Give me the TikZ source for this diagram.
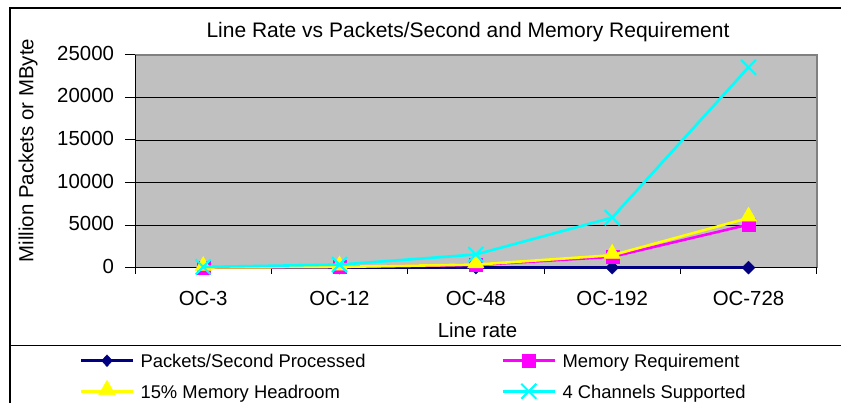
\documentclass[tikz,border=0pt]{standalone}
\usepackage{fontspec}
\setmainfont{Liberation Sans}
\usetikzlibrary{shapes.geometric,shapes.misc,calc}

\definecolor{plotgray}{HTML}{C0C0C0}
\definecolor{framegray}{HTML}{808080}
\definecolor{sNavy}{HTML}{000080}
\definecolor{sMagenta}{HTML}{FF00FF}
\definecolor{sYellow}{HTML}{FFFF00}
\definecolor{sCyan}{HTML}{00FFFF}

\tikzset{
  titlefont/.style={font=\fontsize{21}{24}\selectfont},
  axisfont/.style={font=\fontsize{20.4}{23}\selectfont},
  legendfont/.style={font=\fontsize{18.4}{21}\selectfont},
  serline/.style={line width=2.6pt, line join=round},
  mkdiamond/.style={diamond, fill=sNavy, draw=sNavy, inner sep=0pt, minimum width=13pt, minimum height=13pt},
  mksquare/.style={rectangle, fill=sMagenta, draw=sMagenta, inner sep=0pt, minimum size=13pt},
  mktriangle/.style={regular polygon, regular polygon sides=3, fill=sYellow, draw=sYellow, inner sep=0pt, minimum size=19pt, yshift=1.5pt},
  mkcross/.style={cross out, draw=sCyan, line width=2pt, inner sep=0pt, minimum size=13pt},
  gridline/.style={line width=0.9pt, black},
  tickline/.style={line width=1pt, black},
}

\begin{document}
\begin{tikzpicture}[x=1pt, y=-1pt]
\useasboundingbox (0,0) rectangle (841,403);
\fill[white] (0,0) rectangle (841,403);

% chart frame and legend separator
\draw[line width=1.2pt] (841,8) -- (10,8) -- (10,403);
\draw[line width=1.2pt] (10,345.7) -- (841,345.7);

% title
\node[titlefont, anchor=base] (title) at (468,37.5) {Line Rate vs Packets/Second and Memory Requirement};

% plot area
\fill[plotgray] (135,55) rectangle (816.7,267.7);
\foreach \yy in {97.3,140,182.6,225.2} \draw[gridline] (135,\yy) -- (816.7,\yy);
\draw[framegray, line width=2pt] (135,55) -- (816.7,55) -- (816.7,267.7);

% value axis
\draw[tickline] (135,55) -- (135,267.7);
\foreach \yy/\lab in {55/25000,97.3/20000,140/15000,182.6/10000,225.2/5000,267.7/0} {
  \draw[tickline] (125,\yy) -- (135,\yy);
  \node[axisfont, anchor=base east] at (117.5,\yy+5.5) {\lab};
}
% category axis
\draw[tickline] (135,267.7) -- (816.7,267.7);
\foreach \xx in {135,271.3,407.7,544,680.3,816.7} \draw[tickline] (\xx,267.7) -- (\xx,274.5);
\foreach \xx/\lab in {203.2/OC-3,339.5/OC-12,475.8/OC-48,612.2/OC-192,748.5/OC-728}
  \node[axisfont, anchor=base] at (\xx,305.5) {\lab};

% axis titles
\node[axisfont, anchor=base] (xtitle) at (477.5,337.7) {Line rate};
\node[axisfont, anchor=base, rotate=90] (ytitle) at (33.3,150.5) {Million Packets or MByte};

% data points (x: category centre, y: value scaled to 5000 per 42.54px)
\foreach \n/\xx in {1/203.2,2/339.5,3/475.8,4/612.2,5/748.5} {
  \coordinate (P\n) at (\xx,267.6);
}
\coordinate (M1) at (203.2,267.5);
\coordinate (M2) at (339.5,267.0);
\coordinate (M3) at (475.8,265.0);
\coordinate (M4) at (612.2,256.8);
\coordinate (M5) at (748.5,224.6);
\coordinate (H1) at (203.2,267.5);
\coordinate (H2) at (339.5,266.9);
\coordinate (H3) at (475.8,264.6);
\coordinate (H4) at (612.2,255.2);
\coordinate (H5) at (748.5,218.0);
\coordinate (C1) at (203.2,266.9);
\coordinate (C2) at (339.5,264.6);
\coordinate (C3) at (475.8,254.5);
\coordinate (C4) at (612.2,217.6);
\coordinate (C5) at (748.5,67.3);

% series: packets/second processed
\draw[serline, sNavy] (P1) -- (P2) -- (P3) -- (P4) -- (P5);
\foreach \n in {1,...,5} \node[mkdiamond] (pm\n) at (P\n) {};
% series: memory requirement
\draw[serline, sMagenta] (M1) -- (M2) -- (M3) -- (M4) -- (M5);
\foreach \n in {1,...,5} \node[mksquare] (mm\n) at (M\n) {};
% series: 15% memory headroom
\draw[serline, sYellow] (H1) -- (H2) -- (H3) -- (H4) -- (H5);
\foreach \n in {1,...,5} \node[mktriangle] (hm\n) at (H\n) {};
% series: 4 channels supported
\draw[serline, sCyan] (C1) -- (C2) -- (C3) -- (C4) -- (C5);
\foreach \n in {1,...,5} \node[mkcross] (cm\n) at (C\n) {};

% legend
\coordinate (la1) at (81,360.7);  \coordinate (lb1) at (133,360.7);
\coordinate (la2) at (502.7,360.7); \coordinate (lb2) at (555,360.7);
\coordinate (la3) at (81,391.3);  \coordinate (lb3) at (133,391.3);
\coordinate (la4) at (502.7,391.3); \coordinate (lb4) at (555,391.3);

\draw[serline, sNavy] (la1) -- (lb1);
\node[mkdiamond, minimum width=11pt, minimum height=12pt] (lm1) at ($(la1)!0.5!(lb1)$) {};
\node[legendfont, anchor=base west] (lt1) at (137,367.7) {Packets/Second Processed};

\draw[serline, sMagenta] (la2) -- (lb2);
\node[mksquare] (lm2) at ($(la2)!0.5!(lb2)$) {};
\node[legendfont, anchor=base west] (lt2) at (559,367.7) {Memory Requirement};

\draw[serline, sYellow] (la3) -- (lb3);
\node[mktriangle] (lm3) at ($(la3)!0.5!(lb3)$) {};
\node[legendfont, anchor=base west] (lt3) at (137,398.3) {15\% Memory Headroom};

\draw[serline, sCyan] (la4) -- (lb4);
\node[mkcross] (lm4) at ($(la4)!0.5!(lb4)$) {};
\node[legendfont, anchor=base west] (lt4) at (559,398.3) {4 Channels Supported};
\end{tikzpicture}
\end{document}
